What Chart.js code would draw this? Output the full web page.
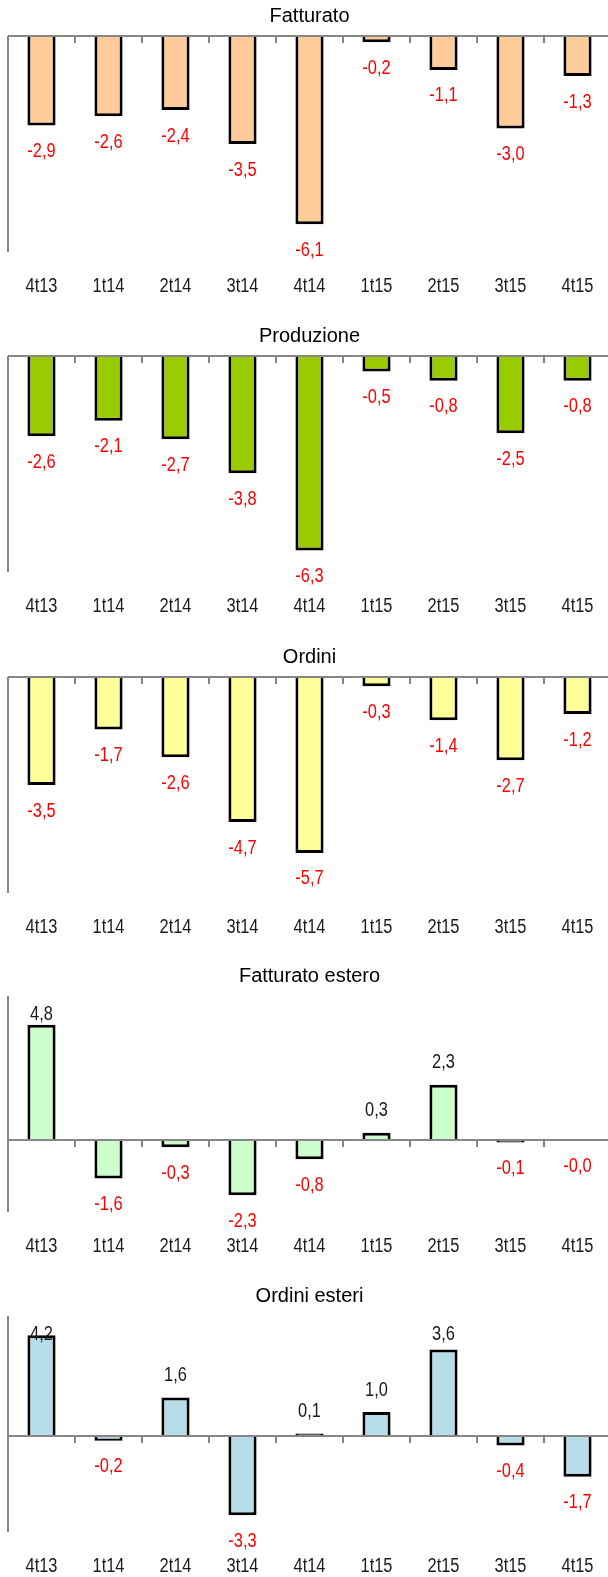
<!DOCTYPE html>
<html>
<head>
<meta charset="utf-8">
<script src="https://cdn.jsdelivr.net/npm/chart.js"></script>
<style>
  html, body { margin: 0; padding: 0; background: #fff; overflow: hidden; }
  .box { position: absolute; left: 0; width: 608px; height: 300px; overflow: hidden; }
</style>
</head>
<body>
<div class="box" style="top:0px"><canvas id="c1" width="612" height="300"></canvas></div>
<div class="box" style="top:320px"><canvas id="c2" width="612" height="300"></canvas></div>
<div class="box" style="top:641px"><canvas id="c3" width="612" height="300"></canvas></div>
<div class="box" style="top:960px"><canvas id="c4" width="612" height="300"></canvas></div>
<div class="box" style="top:1280px"><canvas id="c5" width="612" height="300"></canvas></div>
<script>
// trimestri
const trimestri = ['4t13', '1t14', '2t14', '3t14', '4t14', '1t15', '2t15', '3t15', '4t15'];

// variazioni per serie
const fatturato = [-2.9, -2.6, -2.4, -3.5, -6.1, -0.2, -1.1, -3.0, -1.3];
const produzione = [-2.6, -2.1, -2.7, -3.8, -6.3, -0.5, -0.8, -2.5, -0.8];
const ordini = [-3.5, -1.7, -2.6, -4.7, -5.7, -0.3, -1.4, -2.7, -1.2];
const fatturatoEstero = [4.8, -1.6, -0.3, -2.3, -0.8, 0.3, 2.3, -0.1, -0.04];
const ordiniEsteri = [4.2, -0.2, 1.6, -3.3, 0.1, 1.0, 3.6, -0.4, -1.7];

// testo "narrow": Liberation Sans schiacciato in orizzontale
function testoStretto(ctx, testo, x, y) {
  ctx.save();
  ctx.translate(x, y);
  ctx.scale(0.82, 1);
  ctx.fillText(testo, 0, 0);
  ctx.restore();
}

// assi, etichette trimestri e valori
const assi = {
  id: 'assi',
  afterDatasetsDraw(chart) {
    const { ctx, chartArea: a, scales: { x, y } } = chart;
    const y0 = y.getPixelForValue(0);
    const n = chart.data.labels.length;
    const passo = (a.right - a.left) / n;
    ctx.save();
    ctx.strokeStyle = '#868686';
    ctx.lineWidth = 2;
    ctx.beginPath();
    ctx.moveTo(a.left, a.top);
    ctx.lineTo(a.left, a.bottom);
    ctx.moveTo(a.left, y0);
    ctx.lineTo(a.right, y0);
    for (let i = 1; i < n; i++) {
      const xt = Math.round(a.left + passo * i);
      ctx.moveTo(xt, y0);
      ctx.lineTo(xt, y0 + 7);
    }
    ctx.stroke();

    ctx.font = '20px "Liberation Sans", Arial, sans-serif';
    ctx.textAlign = 'center';
    ctx.textBaseline = 'middle';

    // etichette asse x
    ctx.fillStyle = '#1a1a1a';
    chart.data.labels.forEach((lab, i) => {
      testoStretto(ctx, lab, x.getPixelForTick(i), a.bottom + 34);
    });

    // etichette valori
    const dati = chart.data.datasets[0].data;
    chart.getDatasetMeta(0).data.forEach((bar, i) => {
      const v = dati[i];
      let ty;
      if (v < 0) {
        ctx.fillStyle = '#ff0000';
        ty = bar.y + 26;
      } else {
        ctx.fillStyle = '#1a1a1a';
        ty = Math.max(bar.y - 22, a.top + 18);
      }
      testoStretto(ctx, v.toFixed(1).replace('.', ','), bar.x, ty);
    });
    ctx.restore();
  }
};

function grafico(id, titolo, dati, colore, min, max) {
  new Chart(document.getElementById(id), {
    type: 'bar',
    data: {
      labels: trimestri,
      datasets: [{
        data: dati,
        backgroundColor: colore,
        borderColor: '#000',
        borderWidth: 3,
        categoryPercentage: 1,
        barPercentage: 0.42
      }]
    },
    options: {
      responsive: false,
      animation: false,
      layout: { padding: { left: 8, right: 1, top: 0, bottom: 48 } },
      plugins: {
        legend: { display: false },
        tooltip: { enabled: false },
        title: {
          display: true,
          text: titolo,
          color: '#000',
          font: { family: '"Liberation Sans", Arial, sans-serif', size: 20, weight: 'normal' },
          padding: { top: 4, bottom: 8 }
        }
      },
      scales: {
        x: {
          grid: { display: false, drawTicks: false },
          border: { display: false },
          ticks: { display: false }
        },
        y: { display: false, min: min, max: max }
      }
    },
    plugins: [assi]
  });
}

grafico('c1', 'Fatturato', fatturato, '#ffcc99', -7, 0);
grafico('c2', 'Produzione', produzione, '#99cc00', -7, 0);
grafico('c3', 'Ordini', ordini, '#ffff99', -7, 0);
grafico('c4', 'Fatturato estero', fatturatoEstero, '#ccffcc', -3, 6);
grafico('c5', 'Ordini esteri', ordiniEsteri, '#b7dee8', -4, 5);
</script>
</body>
</html>
